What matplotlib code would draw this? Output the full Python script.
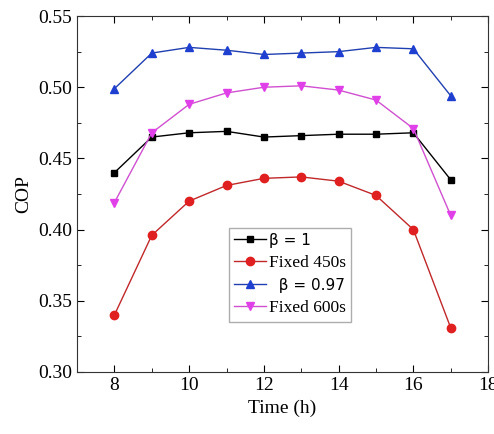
import matplotlib
matplotlib.use("Agg")
import matplotlib.pyplot as plt
from matplotlib.ticker import MultipleLocator

hours = [8, 9, 10, 11, 12, 13, 14, 15, 16, 17]
beta_1 = [0.440, 0.465, 0.468, 0.469, 0.465, 0.466, 0.467, 0.467, 0.468, 0.435]
fixed_450 = [0.340, 0.396, 0.420, 0.431, 0.436, 0.437, 0.434, 0.424, 0.400, 0.331]
beta_097 = [0.499, 0.524, 0.528, 0.526, 0.523, 0.524, 0.525, 0.528, 0.527, 0.494]
fixed_600 = [0.419, 0.468, 0.488, 0.496, 0.500, 0.501, 0.498, 0.491, 0.471, 0.410]

plt.rcParams['font.family'] = ['Liberation Serif', 'DejaVu Serif']

fig = plt.figure(figsize=(4.94, 4.34), dpi=100)
ax = fig.add_axes([0.156, 0.143, 0.832, 0.820])

ax.plot(hours, beta_1, color='black', marker='s', ms=5, lw=1, label='β = 1')
ax.plot(hours, fixed_450, color='#c0282a', marker='o', ms=6, mfc='#e02020', mec='#e02020', lw=1, label='Fixed 450s')
ax.plot(hours, beta_097, color='#2040b0', marker='^', ms=6, mfc='#1f3fd0', mec='#1f3fd0', lw=1, label='  β = 0.97')
ax.plot(hours, fixed_600, color='#d050d0', marker='v', ms=6, mfc='#e040e8', mec='#e040e8', lw=1, label='Fixed 600s')

ax.set_xlim(7, 18)
ax.set_ylim(0.30, 0.55)
ax.xaxis.set_major_locator(MultipleLocator(2))
ax.xaxis.set_minor_locator(MultipleLocator(1))
ax.yaxis.set_major_locator(MultipleLocator(0.05))
ax.yaxis.set_minor_locator(MultipleLocator(0.025))
ax.tick_params(which='both', direction='in', top=True, right=True, labelsize=14)
ax.tick_params(which='major', length=5)
ax.tick_params(which='minor', length=3)
ax.set_xlabel('Time (h)', fontsize=14)
ax.set_ylabel('COP', fontsize=14)
for s in ax.spines.values():
    s.set_color('#333333')

leg = ax.legend(loc='upper left', bbox_to_anchor=(0.37, 0.405), borderaxespad=0,
                fontsize=12.5, frameon=True, fancybox=False, edgecolor='#999999',
                handlelength=1.8, borderpad=0.3, labelspacing=0.4, handletextpad=0.2)
texts = leg.get_texts()
texts[0].set_family('DejaVu Sans')
texts[0].set_fontsize(11)
texts[2].set_family('DejaVu Sans')
texts[2].set_fontsize(11)

fig.savefig('out.png', dpi=100)
